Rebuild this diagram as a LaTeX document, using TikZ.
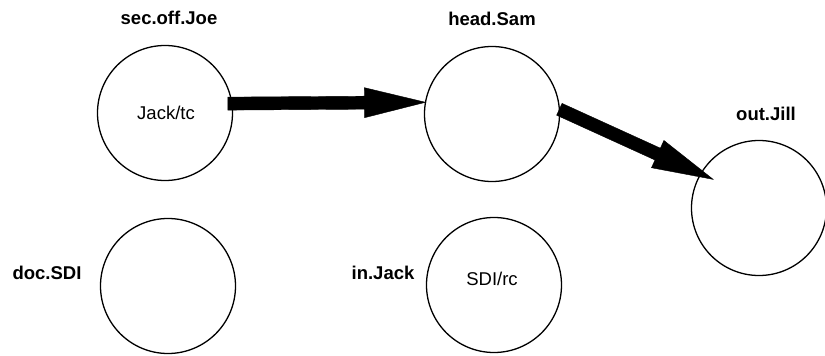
\documentclass[tikz,border=0pt]{standalone}
\usepackage{fontspec}
\setmainfont{Liberation Sans}
\usetikzlibrary{calc}
\begin{document}
\begin{tikzpicture}[x=1pt,y=-1pt,
  place/.style={circle,draw,line width=1.3pt,inner sep=0pt,outer sep=0pt,
    minimum size=135pt},
  inside/.style={font=\fontsize{18.5}{20}\selectfont,anchor=base},
  tag/.style={font=\fontsize{18.5}{20}\selectfont\bfseries,anchor=base},
  flowfill/.style={fill=black,draw=black,line width=0.4pt,line join=miter}]
% block arrow from #1 to #2: shaft 13pt, head 30pt wide and 61pt long
\newcommand\blockarrow[2]{%
  \coordinate (ba-h) at ($(#2)!61pt!(#1)$);
  \fill[flowfill]
    ($(#1)!6.5pt!90:(#2)$) -- ($(ba-h)!6.5pt!-90:(#1)$)
    -- ($(ba-h)!15pt!-90:(#1)$) -- (#2)
    -- ($(ba-h)!15pt!90:(#1)$) -- ($(ba-h)!6.5pt!90:(#1)$)
    -- ($(#1)!6.5pt!-90:(#2)$) -- cycle;}
\useasboundingbox (0,0) rectangle (825,356);
% places
\node[place] (joe)  at (165,113) {};
\node[place] (sam)  at (492,114) {};
\node[place] (jill) at (759,208) {};
\node[place] (sdi)  at (168,286) {};
\node[place] (jack) at (494,285) {};
% place names
\node[tag] (tjoe)  at (169,24.5) {sec.off.Joe};
\node[tag] (tsam)  at (492,25)   {head.Sam};
\node[tag] (tjill) at (766,120)  {out.Jill};
\node[tag] (tsdi)  at (47,279)   {doc.SDI};
\node[tag] (tjack) at (383,279)  {in.Jack};
% tokens
\node[inside] (tok1) at (166,119) {Jack/tc};
\node[inside] (tok2) at (492,285) {SDI/rc};
% transitions
\coordinate (a1s) at ($(joe.8)+(-4,0)$);
\coordinate (a1t) at (sam.170);
\blockarrow{a1s}{a1t}
\coordinate (a2s) at (sam.4);
\coordinate (a2t) at ($(jill.center)!0.8!(jill.148)$);
\blockarrow{a2s}{a2t}
\end{tikzpicture}
\end{document}
